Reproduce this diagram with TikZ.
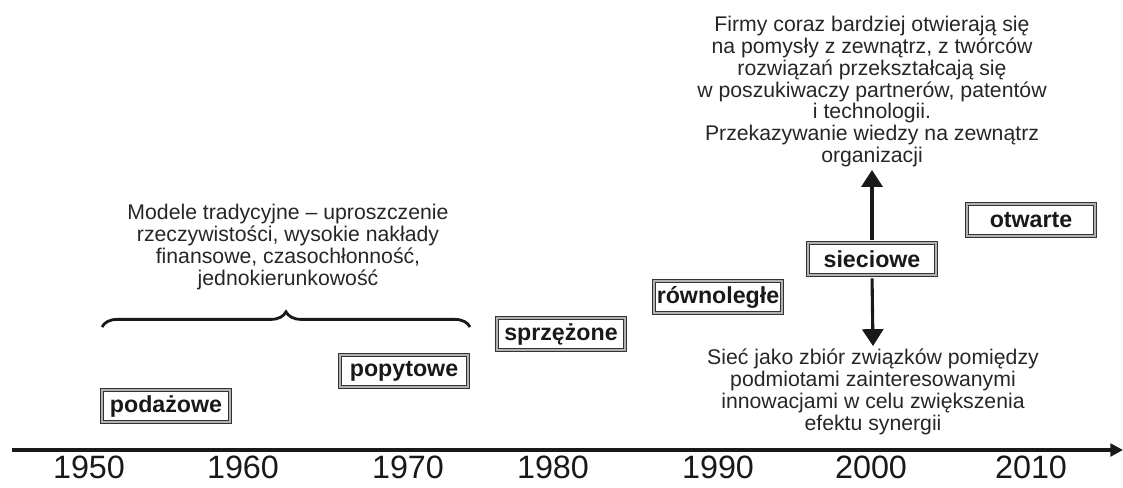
\documentclass[tikz,border=0pt]{standalone}
\usepackage{fontspec}
\setmainfont{Liberation Sans}
\usepackage{tikz}
\usetikzlibrary{calc,decorations.pathreplacing,arrows.meta,positioning}

\begin{document}
\begin{tikzpicture}[x=0.025cm,y=-0.025cm,
  model/.style={draw=black!80,double=gray!60,double distance=1.2pt,line width=0.9pt,fill=white,minimum width=3.2cm,minimum height=0.8cm,inner sep=0pt,font=\bfseries\fontsize{16.5}{18}\selectfont,text=black!90},
  note/.style={align=center,font=\fontsize{15.1}{15.5}\selectfont,text=black!85,inner sep=2pt},
  yearlbl/.style={font=\fontsize{23}{26}\selectfont,text=black!90,inner sep=0pt},
  flow/.style={line width=2.2pt,black!90,-{Triangle[length=12pt,width=15pt]}},
  axis/.style={line width=2.8pt,black!90,-{Triangle[length=9pt,width=9pt]}},
  bracestyle/.style={line width=2pt,black!90,decorate,decoration={brace,amplitude=0.38cm}}]
\useasboundingbox (0,0) rectangle (1123,487);
\coordinate (axstart) at (12,450);
\coordinate (axend) at (1123,450);
\draw[axis] (axstart) -- (axend);
\foreach \yr/\xx in {1950/89,1960/243,1970/408,1980/553,1990/718,2000/871,2010/1031}
  \node[yearlbl] (y\yr) at (\xx,467) {\yr};
\node[model] (podaz) at (166,406) {podażowe};
\node[model] (popyt) at (404,371) {popytowe};
\node[model] (sprz) at (561,334) {sprzężone};
\node[model] (rown) at (718,297) {równoległe};
\node[model] (siec) at (872,259) {sieciowe};
\node[model] (otw) at (1031,220) {otwarte};
\coordinate (braceL) at (102,327);
\coordinate (braceR) at (470,327);
\draw[bracestyle] (braceL) -- (braceR);
\node[note] (trad) at (288,247) {Modele tradycyjne -- uproszczenie\\rzeczywistości, wysokie nakłady\\finansowe, czasochłonność,\\jednokierunkowość};
\node[note,anchor=south] (openinfo) at (872,170) {Firmy coraz bardziej otwierają się\\na pomysły z zewnątrz, z twórców\\rozwiązań przekształcają się\\w poszukiwaczy partnerów, patentów\\i technologii.\\Przekazywanie wiedzy na zewnątrz\\organizacji};
\node[note,anchor=north] (netinfo) at (873,346) {Sieć jako zbiór związków pomiędzy\\podmiotami zainteresowanymi\\innowacjami w celu zwiększenia\\efektu synergii};
\draw[flow,shorten <=2pt] (siec.north) -- (openinfo.south);
\draw[flow,shorten <=2pt] (siec.south) -- (netinfo.north);
\end{tikzpicture}
\end{document}
